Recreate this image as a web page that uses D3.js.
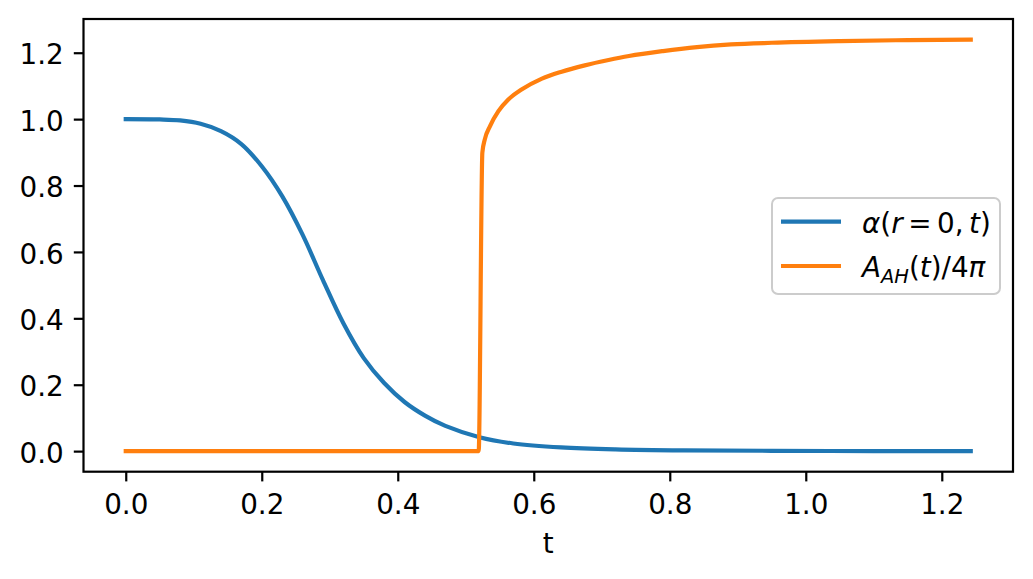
<!DOCTYPE html>
<html>
<head>
<meta charset="utf-8">
<script src="https://cdn.jsdelivr.net/npm/d3@7"></script>
<style>
  body { margin: 0; background: #fff; }
  svg { display: block; font-family: "DejaVu Sans", sans-serif; }
</style>
</head>
<body>
<svg id="chart" width="1033" height="579"></svg>
<script>
// alpha(r=0,t)
var alphaT = [0, 0.05, 0.08, 0.11, 0.14, 0.17, 0.20, 0.23, 0.26, 0.29, 0.32, 0.35, 0.38, 0.41, 0.44, 0.47, 0.52, 0.57, 0.64, 0.72, 0.82, 0.95, 1.10, 1.2426]
var alphaV = [1.0, 0.999, 0.996, 0.986, 0.964, 0.925, 0.858, 0.768, 0.652, 0.515, 0.385, 0.280, 0.205, 0.148, 0.107, 0.076, 0.042, 0.023, 0.011, 0.005, 0.002, 0.001, 0.0, 0.0]

// apparent horizon area / 4pi
var areaT = [0, 0.519, 0.5244, 0.528, 0.5357, 0.548, 0.5626, 0.582, 0.612, 0.641, 0.675, 0.710, 0.74, 0.79, 0.84, 0.89, 0.95, 1.05, 1.15, 1.2426]
var areaV = [0, 0, 0.899, 0.939, 0.979, 1.024, 1.059, 1.089, 1.122, 1.143, 1.162, 1.178, 1.190, 1.205, 1.217, 1.225, 1.230, 1.235, 1.238, 1.2396]

var xTicks = [0, 0.2, 0.4, 0.6, 0.8, 1.0, 1.2]
var yTicks = [0, 0.2, 0.4, 0.6, 0.8, 1.0, 1.2]
var xLabel = "t"
var seriesColors = ["#1f77b4", "#ff7f0e"]

var svg = d3.select("#chart")
var margin = { left: 83.5, top: 19, right: 20, bottom: 107.3 }
var width = 1033 - margin.left - margin.right
var height = 579 - margin.top - margin.bottom
var g = svg.append("g").attr("transform", `translate(${margin.left},${margin.top})`)

// matplotlib style 5% padding around the data
function padded(values) {
    var ext = d3.extent(values)
    var d = (ext[1] - ext[0]) * 0.05
    return [ext[0] - d, ext[1] + d]
}

var x = d3.scaleLinear().domain(padded(alphaT.concat(areaT))).range([0, width])
var y = d3.scaleLinear().domain(padded(alphaV.concat(areaV))).range([height, 0])

var fontSize = 27.8
var tickLen = 9.7

// x axis
var xAxis = g.append("g")
    .attr("transform", `translate(0,${height})`)
    .call(d3.axisBottom(x).tickValues(xTicks).tickFormat(d3.format(".1f")).tickSize(tickLen).tickPadding(13))
xAxis.select(".domain").remove()
xAxis.selectAll("line").attr("stroke", "#000").attr("stroke-width", 2.2)
xAxis.selectAll("text").attr("font-size", fontSize).attr("font-family", "DejaVu Sans").attr("fill", "#000")

// y axis
var yAxis = g.append("g")
    .call(d3.axisLeft(y).tickValues(yTicks).tickFormat(d3.format(".1f")).tickSize(tickLen).tickPadding(10))
yAxis.select(".domain").remove()
yAxis.selectAll("line").attr("stroke", "#000").attr("stroke-width", 2.2)
yAxis.selectAll("text").attr("font-size", fontSize).attr("font-family", "DejaVu Sans").attr("fill", "#000").attr("dy", "0.4em")

// axis label
g.append("text")
    .attr("x", width / 2)
    .attr("y", height + 81.5)
    .attr("text-anchor", "middle")
    .attr("font-size", fontSize)
    .text(xLabel)

// curves: smooth spline for alpha, monotone for the area (keeps the jump clean)
var curves = [d3.curveCatmullRom.alpha(0.5), d3.curveMonotoneX]

var series = [
    d3.zip(alphaT, alphaV),
    d3.zip(areaT, areaV)
]

g.selectAll(".curve")
    .data(series)
    .enter().append("path")
    .attr("class", "curve")
    .attr("d", (d, i) => d3.line().x(p => x(p[0])).y(p => y(p[1])).curve(curves[i])(d))
    .attr("fill", "none")
    .attr("stroke", (d, i) => seriesColors[i])
    .attr("stroke-width", 4.2)
    .attr("stroke-linecap", "square")
    .attr("stroke-linejoin", "round")

// frame
g.append("rect")
    .attr("width", width)
    .attr("height", height)
    .attr("fill", "none")
    .attr("stroke", "#000")
    .attr("stroke-width", 2.2)

// legend
var legend = svg.append("g").attr("transform", "translate(772,198)")
legend.append("rect")
    .attr("width", 228)
    .attr("height", 96)
    .attr("rx", 6)
    .attr("fill", "#fff")
    .attr("fill-opacity", 0.8)
    .attr("stroke", "#cccccc")
    .attr("stroke-width", 2)

// mathtext-ish labels: [text, italic, subscript]
var legendParts = [
    [["α", true], ["(", false], ["r", true], ["\u2009=\u2009", false], ["0", false], [",\u2009", false], ["t", true], [")", false]],
    [["A", true], ["AH", true, true], ["(", false], ["t", true], [")/4", false], ["π", true]]
]

legendParts.forEach(function (parts, i) {
    var yy = 23.7 + i * 44.3
    legend.append("line")
        .attr("x1", 9).attr("x2", 69)
        .attr("y1", yy).attr("y2", yy)
        .attr("stroke", seriesColors[i])
        .attr("stroke-width", 4.2)
    var t = legend.append("text")
        .attr("x", 90)
        .attr("y", yy + 11)
        .attr("font-size", fontSize)
    var wasSub = false
    parts.forEach(function (p) {
        var ts = t.append("tspan")
            .attr("font-style", p[1] ? "italic" : "normal")
            .text(p[0])
        if (p[2]) {
            ts.attr("font-size", fontSize * 0.7).attr("dy", 6)
            wasSub = true
        } else if (wasSub) {
            ts.attr("dy", -6)
            wasSub = false
        }
    })
})
</script>
</body>
</html>
